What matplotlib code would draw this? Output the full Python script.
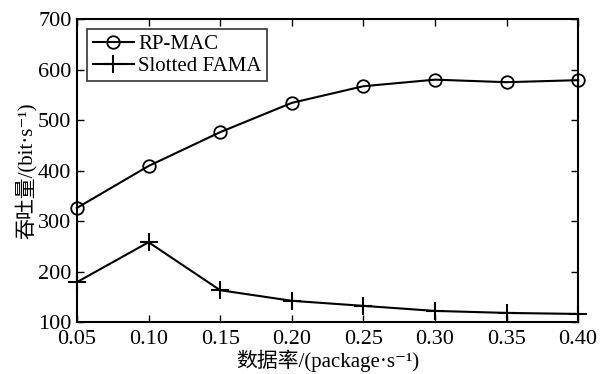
import matplotlib
matplotlib.use("Agg")
import matplotlib.pyplot as plt

plt.rcParams['font.family'] = ['Liberation Serif', 'Noto Sans CJK SC', 'DejaVu Sans']

rate = [0.05, 0.10, 0.15, 0.20, 0.25, 0.30, 0.35, 0.40]
rp_mac = [326, 409, 476, 534, 567, 580, 575, 579]
slotted_fama = [179, 258, 163, 142, 132, 122, 118, 116]

fig = plt.figure(figsize=(6.06, 3.74), dpi=100)
ax = fig.add_axes([0.127, 0.139, 0.827, 0.810])

ax.plot(rate, rp_mac, color='black', lw=1.5, marker='o', ms=9,
        mfc='none', mec='black', mew=1.3, label='RP-MAC', clip_on=False)
ax.plot(rate, slotted_fama, color='black', lw=1.5, marker='+', ms=13,
        mew=1.5, label='Slotted FAMA', clip_on=False)

ax.set_xlim(0.05, 0.40)
ax.set_ylim(100, 700)
ax.set_xticks(rate)
ax.set_xticklabels(['%.2f' % r for r in rate])
ax.set_yticks(range(100, 701, 100))
ax.tick_params(direction='in', top=True, right=True, labelsize=16, length=5, width=1)
ax.tick_params(axis='x', pad=6)
ax.tick_params(axis='y', pad=4)
for s in ax.spines.values():
    s.set_linewidth(1.5)

ax.set_xlabel('数据率/(package·s⁻¹)', fontsize=15, labelpad=0)
ax.set_ylabel('吞吐量/(bit·s⁻¹)', fontsize=15, labelpad=1)

leg = ax.legend(loc='upper left', fontsize=15, frameon=True, fancybox=False,
                edgecolor='black', handlelength=2.0, handletextpad=0.2,
                borderpad=0.25, labelspacing=0.1, borderaxespad=0.5)
leg.get_frame().set_linewidth(1.2)

fig.savefig('out.png', dpi=100)
